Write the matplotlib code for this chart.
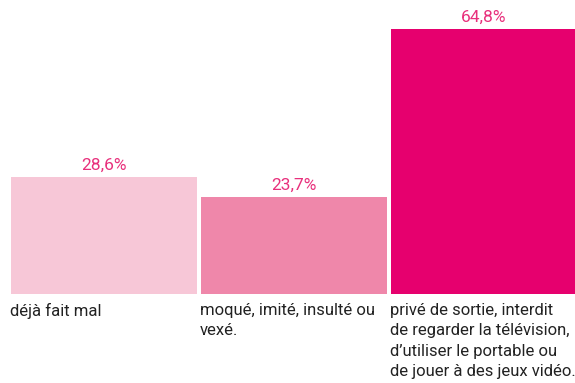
import matplotlib.pyplot as plt

# share of children, by type of punishment (%)
categories = [
    "déjà fait mal",
    "moqué, imité, insulté ou\nvexé.",
    "privé de sortie, interdit\nde regarder la télévision,\nd\u2019utiliser le portable ou\nde jouer à des jeux vidéo.",
]
values = [28.6, 23.7, 64.8]
value_labels = ["28,6%", "23,7%", "64,8%"]
bar_colors = ["#F7C7D7", "#EF87AA", "#E6006E"]

plt.rcParams['font.family'] = ['Roboto', 'DejaVu Sans']

fig = plt.figure(figsize=(5.75, 3.83), dpi=100)
ax = fig.add_axes([0, 0, 1, 1])

x = list(range(len(values)))
bars = ax.bar(x, values, width=0.979, color=bar_colors, align='center')

for b, lab in zip(bars, value_labels):
    ax.annotate(lab, (b.get_x() + b.get_width() / 2, b.get_height()),
                xytext=(0, 5), textcoords='offset points',
                ha='center', va='baseline', fontsize=12.5, color="#E8307C")

for b, cat in zip(bars, categories):
    ax.annotate(cat, (b.get_x(), 0), xytext=(-1, -6.5), textcoords='offset points',
                ha='left', va='top', fontsize=12, color="#222222",
                linespacing=1.46)

ax.set_xlim(-0.547, 2.479)
ax.set_ylim(-21.9, 71.9)
ax.axis('off')

fig.savefig("out.png", dpi=100)
